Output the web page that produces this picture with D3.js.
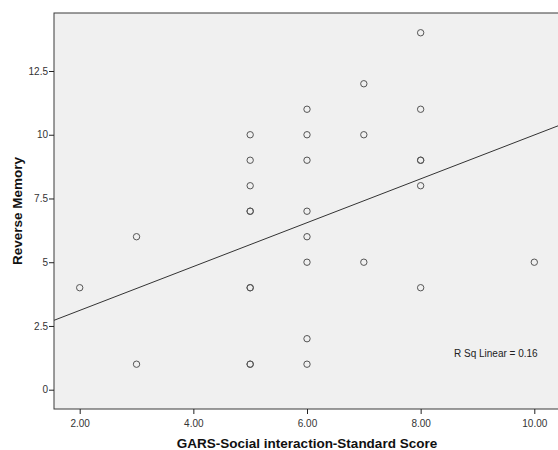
<!DOCTYPE html>
<html>
<head>
<meta charset="utf-8">
<script src="https://cdn.jsdelivr.net/npm/d3@7"></script>
<style>
  html, body { margin: 0; padding: 0; background: #fff; }
  svg { display: block; font-family: "Liberation Sans", Arial, sans-serif; }
</style>
</head>
<body>
<svg id="chart" width="558" height="450"></svg>
<script>
// ---- data ----
const xValues = [2, 3, 3, 5, 5, 5, 5, 5, 5, 5, 5, 5, 6, 6, 6, 6, 6, 6, 6, 6, 7, 7, 7, 8, 8, 8, 8, 8, 8, 10];
const yValues = [4, 6, 1, 10, 9, 8, 7, 7, 4, 4, 1, 1, 11, 10, 9, 7, 6, 5, 2, 1, 12, 10, 5, 14, 11, 9, 9, 8, 4, 5];
const xTicks = [2, 4, 6, 8, 10];
const yTicks = [0, 2.5, 5, 7.5, 10, 12.5];
const fitSlope = 0.86;
const fitIntercept = 1.39;
const rSqLabel = "R Sq Linear = 0.16";
const xTitle = "GARS-Social interaction-Standard Score";
const yTitle = "Reverse Memory";

(function () {
const svg = d3.select("#chart");
const pLeft = 54, pTop = 13, pBottom = 409, pRight = 570;

const x = d3.scaleLinear().domain([2, 10]).range([79.7, 534.3]);
const y = d3.scaleLinear().domain([0, 12.5]).range([389.7, 71]);

// plot background + frame
svg.append("rect")
  .attr("x", pLeft).attr("y", pTop)
  .attr("width", pRight - pLeft).attr("height", pBottom - pTop)
  .attr("fill", "#f0f0f0")
  .attr("stroke", "#3a3a3a").attr("stroke-width", 1);

// axes
const xAxis = d3.axisBottom(x).tickValues(xTicks).tickFormat(d3.format(".2f")).tickSize(5).tickSizeOuter(0);
const gx = svg.append("g").attr("transform", `translate(0,${pBottom})`).call(xAxis);
gx.select(".domain").remove();
gx.selectAll("line").attr("stroke", "#222");
gx.selectAll("text").attr("fill", "#333").attr("font-size", "10px")
  .attr("font-family", "Liberation Sans, Arial, sans-serif").attr("dy", "0.95em");

const yAxis = d3.axisLeft(y).tickValues(yTicks).tickFormat(d => String(d)).tickSize(5).tickSizeOuter(0);
const gy = svg.append("g").attr("transform", `translate(${pLeft},0)`).call(yAxis);
gy.select(".domain").remove();
gy.selectAll("line").attr("stroke", "#222");
gy.selectAll("text").attr("fill", "#333").attr("font-size", "10px")
  .attr("font-family", "Liberation Sans, Arial, sans-serif").attr("x", -6);

// clip for marks
svg.append("clipPath").attr("id", "plotclip")
  .append("rect").attr("x", pLeft).attr("y", pTop).attr("width", pRight - pLeft).attr("height", pBottom - pTop);

const marks = svg.append("g").attr("clip-path", "url(#plotclip)");

// fit line
const x0 = x.invert(pLeft), x1 = x.invert(pRight);
marks.append("line")
  .attr("x1", x(x0)).attr("y1", y(fitIntercept + fitSlope * x0))
  .attr("x2", x(x1)).attr("y2", y(fitIntercept + fitSlope * x1))
  .attr("stroke", "#333").attr("stroke-width", 1);

// points
marks.selectAll("circle.pt").data(xValues.map((v, i) => [v, yValues[i]]))
  .enter().append("circle").attr("class", "pt")
  .attr("cx", d => x(d[0])).attr("cy", d => y(d[1]))
  .attr("r", 3.2)
  .attr("fill", "none").attr("stroke", "#555").attr("stroke-width", 1);

// R sq label
svg.append("text").attr("x", 454).attr("y", 357)
  .attr("font-size", "10px").attr("fill", "#222").text(rSqLabel);

// titles
svg.append("text").attr("x", 307).attr("y", 448)
  .attr("text-anchor", "middle").attr("font-size", "13.5px").attr("font-weight", "bold")
  .attr("fill", "#111").text(xTitle);

svg.append("text").attr("transform", "translate(22,211) rotate(-90)")
  .attr("text-anchor", "middle").attr("font-size", "13.5px").attr("font-weight", "bold")
  .attr("fill", "#111").text(yTitle);
})();
</script>
</body>
</html>
